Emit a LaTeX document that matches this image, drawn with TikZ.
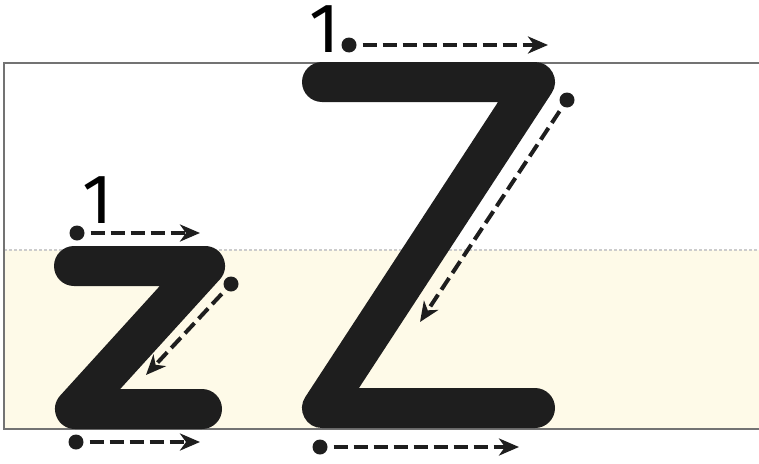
\documentclass[tikz,border=0pt]{standalone}
\usepackage{fontspec}
\setsansfont{Fira Sans}
\usetikzlibrary{arrows.meta,calc,positioning}
\definecolor{InkBlack}{HTML}{1E1E1E}
\definecolor{MidCream}{HTML}{FEFAE8}

\begin{document}
\begin{tikzpicture}[x=1pt,y=-1pt,font=\sffamily\fontsize{70}{72}\selectfont,
 line width=4pt,>={Stealth[length=20pt,width=17pt,inset=6pt]},
 every node/.style={inner sep=0pt},
 letterstroke/.style={InkBlack,line width=40pt,line cap=round,line join=round},
 guide/.style={InkBlack,->,dash pattern=on 14pt off 6pt,shorten <=4pt},
 startdot/.style={circle,fill=InkBlack,minimum size=15pt}]
\useasboundingbox (0,0) rectangle (759,463);
% ruled band
\fill[MidCream] (4,250) rectangle (759,429);
\draw[black!20,line width=1.5pt,dash pattern=on 3pt off 2pt] (4,250)--(759,250);
\draw[black!55,line width=1.6pt] (759,63)--(4,63)--(4,429)--(759,429);
% small z
\begin{scope}
 \draw[letterstroke] (74,266)--(205,266)--(75,409)--(202,409);
 \node (oneA) at (98,200) {1};
 \node[startdot] (zTop) at (77,233) {};
 \coordinate (zTopEnd) at (200,233);
 \draw[guide] (zTop)--(zTopEnd);
 \node[startdot] (zDiag) at (231,284) {};
 \coordinate (zDiagEnd) at (146,375);
 \draw[guide] (zDiag)--(zDiagEnd);
 \node[startdot] (zBot) at (76,442) {};
 \coordinate (zBotEnd) at (200,442);
 \draw[guide] (zBot)--(zBotEnd);
\end{scope}
% capital Z
\begin{scope}
 \draw[letterstroke] (322,82)--(535,82)--(322,408)--(535,408);
 \node (oneB) at (325,29) {1};
 \node[startdot] (ZTop) at (349,45) {};
 \coordinate (ZTopEnd) at (548,45);
 \draw[guide] (ZTop)--(ZTopEnd);
 \node[startdot] (ZDiag) at (567,100) {};
 \coordinate (ZDiagEnd) at (420,322);
 \draw[guide] (ZDiag)--(ZDiagEnd);
 \node[startdot] (ZBot) at (320,447) {};
 \coordinate (ZBotEnd) at (519,447);
 \draw[guide] (ZBot)--(ZBotEnd);
\end{scope}
\end{tikzpicture}
\end{document}
